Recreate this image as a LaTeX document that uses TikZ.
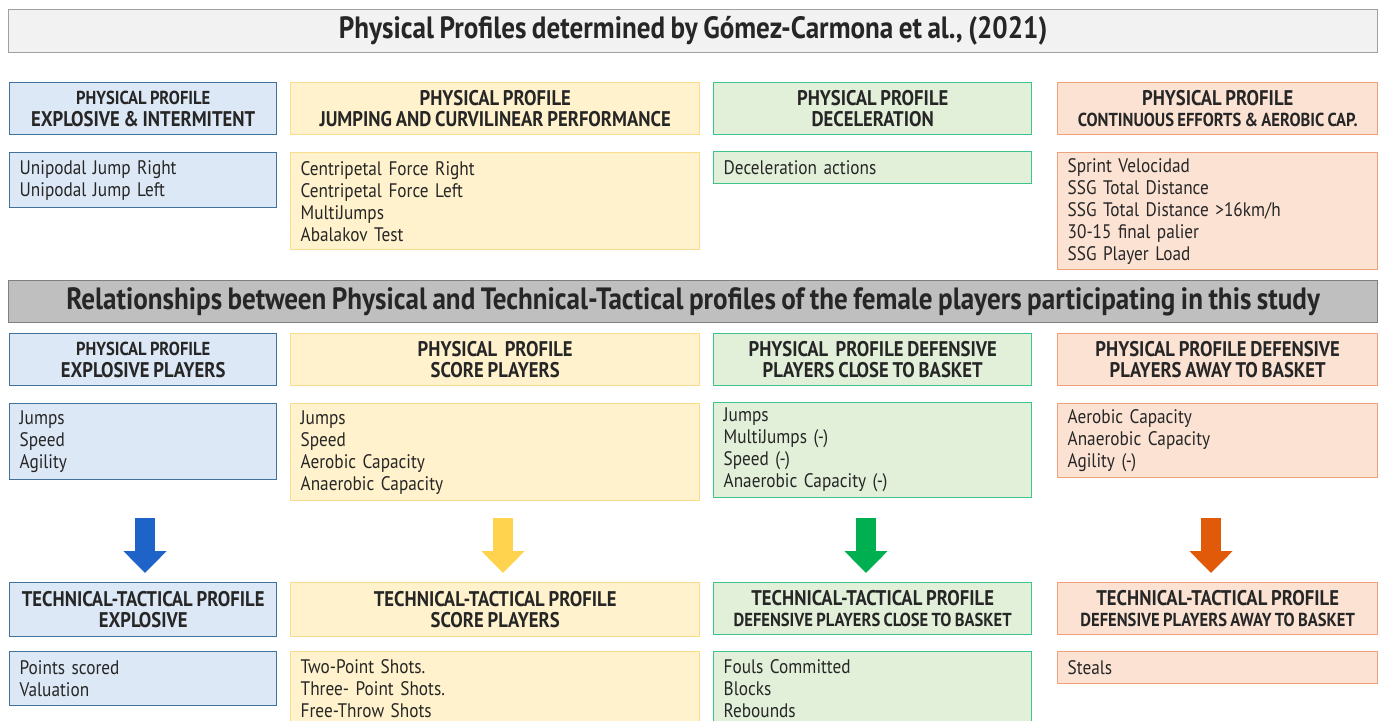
\documentclass[tikz,border=0pt]{standalone}
\usepackage{fontspec}
\setmainfont{PT Sans}[FakeStretch=0.88, WordSpace=0.8]
\usepackage{tikz}
\usetikzlibrary{arrows.meta}
\definecolor{bluefill}{HTML}{DCE8F5}
\definecolor{blueline}{HTML}{41719C}
\definecolor{yelfill}{HTML}{FFF2CC}
\definecolor{yelline}{HTML}{F9DC8C}
\definecolor{grnfill}{HTML}{E2F0D9}
\definecolor{grnline}{HTML}{40C28C}
\definecolor{orgfill}{HTML}{FBE2D3}
\definecolor{orgline}{HTML}{F0A07A}
\definecolor{topfill}{HTML}{F2F2F2}
\definecolor{topline}{HTML}{A0A0A0}
\definecolor{midfill}{HTML}{BFBFBF}
\definecolor{midline}{HTML}{808080}
\definecolor{arrblue}{HTML}{1E64C8}
\definecolor{arryel}{HTML}{FFD34E}
\definecolor{arrgrn}{HTML}{00B050}
\definecolor{arrorg}{HTML}{E05A0A}
\newcommand{\sm}{\fontsize{9.4}{10.8}\selectfont}

\begin{document}
\begin{tikzpicture}[x=0.5pt, y=-0.5pt,
  box/.style = {rectangle, draw, line width=0.7pt, anchor=north west, inner xsep=5pt, inner ysep=0pt, text=black!85},
  titlebox/.style = {box, minimum width=684.5pt, font=\bfseries\fontsize{15.4}{17}\selectfont},
  head/.style = {box, align=center, minimum height=26pt, font=\bfseries\fontsize{10.6}{10.8}\selectfont},
  list/.style = {box, align=left, font=\fontsize{9.8}{11}\selectfont},
  bl/.style = {fill=bluefill, draw=blueline},
  yl/.style = {fill=yelfill, draw=yelline},
  gr/.style = {fill=grnfill, draw=grnline},
  og/.style = {fill=orgfill, draw=orgline},
  bigarrow/.style = {line width=10pt, -{Triangle[width=21pt,length=11pt]}, shorten >=4.5pt}
]
\useasboundingbox (0,0) rectangle (1381,721);
\clip (0,0) rectangle (1381,721);

\node (title1)[titlebox, fill=topfill, draw=topline, minimum height=21.5pt] at (8,9) {Physical Profiles determined by Gómez-Carmona et al., (2021)};

\node (h11)[head, bl, minimum width=133.5pt] at (9,82) {\sm PHYSICAL PROFILE\\EXPLOSIVE \& INTERMITENT};
\node (h12)[head, yl, minimum width=204.5pt] at (290,82) {PHYSICAL PROFILE\\JUMPING AND CURVILINEAR PERFORMANCE};
\node (h13)[head, gr, minimum width=159pt] at (713,82) {PHYSICAL PROFILE\\DECELERATION};
\node (h14)[head, og, minimum width=160pt] at (1057,82) {PHYSICAL PROFILE\\\sm CONTINUOUS EFFORTS \& AEROBIC CAP.};

\node (l11)[list, bl, text width=123.5pt, minimum height=27.5pt] at (9,152) {Unipodal Jump Right\\Unipodal Jump Left};
\node (l12)[list, yl, text width=194.5pt, minimum height=48.5pt] at (290,152) {Centripetal Force Right\\Centripetal Force Left\\MultiJumps\\Abalakov Test};
\node (l13)[list, gr, text width=149pt, minimum height=16pt] at (713,151) {Deceleration actions};
\node (l14)[list, og, text width=150pt, minimum height=58.5pt] at (1057,152) {Sprint Velocidad\\SSG Total Distance\\SSG Total Distance >16km/h\\30-15 final palier\\SSG Player Load};

\node (title2)[titlebox, fill=midfill, draw=midline, minimum height=21pt] at (8,280) {Relationships between Physical and Technical-Tactical profiles of the female players participating in this study};

\node (h21)[head, bl, minimum width=133.5pt] at (9,333) {\sm PHYSICAL PROFILE\\EXPLOSIVE PLAYERS};
\node (h22)[head, yl, minimum width=204.5pt] at (290,333) {PHYSICAL\ \ PROFILE\\SCORE PLAYERS};
\node (h23)[head, gr, minimum width=159pt] at (713,333) {PHYSICAL\ \ PROFILE DEFENSIVE\\PLAYERS CLOSE TO BASKET};
\node (h24)[head, og, minimum width=160pt] at (1057,333) {PHYSICAL PROFILE DEFENSIVE\\PLAYERS AWAY TO BASKET};

\node (l21)[list, bl, text width=123.5pt, minimum height=38pt] at (9,403) {Jumps\\Speed\\Agility};
\node (l22)[list, yl, text width=194.5pt, minimum height=48.5pt] at (290,403) {Jumps\\Speed\\Aerobic Capacity\\Anaerobic Capacity};
\node (l23)[list, gr, text width=149pt, minimum height=47.5pt] at (713,402) {Jumps\\MultiJumps (-)\\Speed (-)\\Anaerobic Capacity (-)};
\node (l24)[list, og, text width=150pt, minimum height=37pt] at (1057,403) {Aerobic Capacity\\Anaerobic Capacity\\Agility (-)};

\node (h31)[head, bl, minimum width=133.5pt, minimum height=27pt] at (9,582) {TECHNICAL-TACTICAL PROFILE\\EXPLOSIVE};
\node (h32)[head, yl, minimum width=204.5pt, minimum height=27pt] at (290,582) {TECHNICAL-TACTICAL PROFILE\\SCORE PLAYERS};
\node (h33)[head, gr, minimum width=159pt] at (713,582) {TECHNICAL-TACTICAL PROFILE\\\sm DEFENSIVE PLAYERS CLOSE TO BASKET};
\node (h34)[head, og, minimum width=160pt] at (1057,582) {TECHNICAL-TACTICAL PROFILE\\\sm DEFENSIVE PLAYERS AWAY TO BASKET};

\node (l31)[list, bl, text width=123.5pt, minimum height=27pt] at (9,651) {Points scored\\Valuation};
\node (l32)[list, yl, text width=194.5pt, minimum height=37pt] at (290,651) {Two-Point Shots.\\Three- Point Shots.\\Free-Throw Shots};
\node (l33)[list, gr, text width=149pt, minimum height=37pt] at (713,651) {Fouls Committed\\Blocks\\Rebounds};
\node (l34)[list, og, text width=150pt, minimum height=16pt] at (1057,651) {Steals};

% arrows from physical to technical-tactical profiles
\coordinate (s1) at (145,518);
\coordinate (s2) at (503,518);
\coordinate (s3) at (866,518);
\coordinate (s4) at (1211,518);
\draw[bigarrow, arrblue] (s1) -- (s1 |- h31.north);
\draw[bigarrow, arryel] (s2) -- (s2 |- h32.north);
\draw[bigarrow, arrgrn] (s3) -- (s3 |- h33.north);
\draw[bigarrow, arrorg] (s4) -- (s4 |- h34.north);

\end{tikzpicture}
\end{document}
